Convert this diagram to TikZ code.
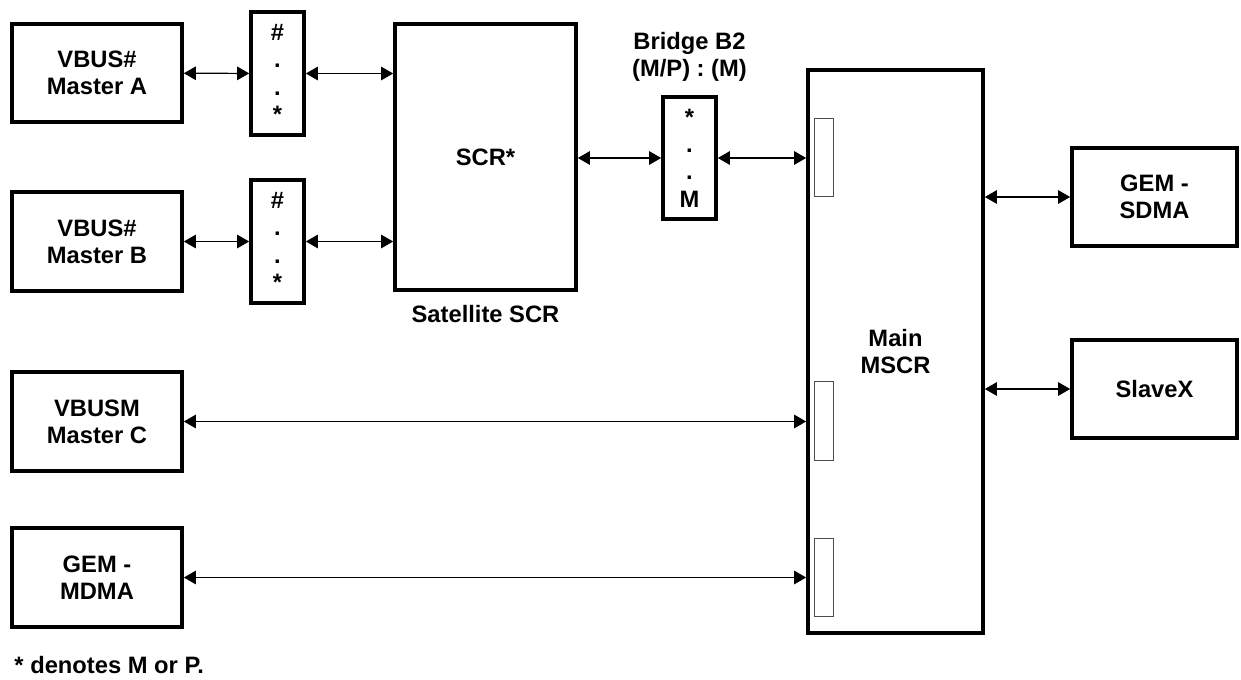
\documentclass[tikz,border=0pt]{standalone}
\usepackage{fontspec}
\setmainfont{Liberation Sans}
\usetikzlibrary{positioning,arrows.meta}

\tikzset{
  blk/.style={draw,line width=2.1pt,align=center,inner sep=0pt,
    font=\bfseries\fontsize{13.5}{15.5}\selectfont},
  master/.style={blk,minimum width=3.4cm,minimum height=1.97cm},
  mux/.style={blk,minimum width=1.06cm,minimum height=2.45cm,
    font=\bfseries\fontsize{13.5}{15.6}\selectfont},
  port/.style={draw,black!70,line width=0.5pt,minimum width=0.38cm,minimum height=1.57cm},
  lbl/.style={align=center,font=\bfseries\fontsize{13.5}{15.5}\selectfont}
}

\begin{document}
\begin{tikzpicture}[x=0.2mm,y=-0.2mm,>={Triangle[length=2.4mm,width=2.7mm]},line width=0.7pt]
  \useasboundingbox (0,0) rectangle (1241,679);

  % left side masters
  \node[master] (mA) at (97,73) {VBUS\#\\Master A};
  \node[master] (mB) at (97,241.5) {VBUS\#\\Master B};
  \node[master] (mC) at (97,421.5) {VBUSM\\Master C};
  \node[master] (mD) at (97,577.5) {GEM -\\MDMA};

  % bus converters
  \node[mux] (muxA) at (277.5,73.5) {\#\\.\\.\\*};
  \node[mux] (muxB) at (277.5,241.5) {\#\\.\\.\\*};

  % satellite SCR and bridge
  \node[blk,minimum width=3.62cm,minimum height=5.32cm] (scr) at (485.5,157) {SCR*};
  \node[lbl,below=0.13cm of scr] (scrlbl) {Satellite SCR};
  \node[mux] (br) at (689.5,158) {*\\.\\.\\M};
  \node[lbl,above=0.14cm of br] (brlbl) {Bridge B2\\(M/P) : (M)};

  % main SCR with its ports
  \node[blk,minimum width=3.5cm,minimum height=11.26cm] (mscr) at (895.5,351.5) {Main\\MSCR};
  \node[port] (p1) at (823.5,157.5) {};
  \node[port] (p2) at (823.5,421) {};
  \node[port] (p3) at (823.5,577.5) {};

  % slaves
  \node[blk,minimum width=3.3cm,minimum height=1.96cm] (sdma) at (1154.5,197) {GEM -\\SDMA};
  \node[blk,minimum width=3.3cm,minimum height=1.96cm] (slv) at (1154.5,389) {SlaveX};

  \node[lbl,anchor=west] (note) at (8,665) {* denotes M or P.};

  \draw[<->] (mA) -- (muxA);
  \draw[<->] (mB) -- (muxB);
  \draw[<->] (muxA.east) -- (muxA.east -| scr.west);
  \draw[<->] (muxB.east) -- (muxB.east -| scr.west);
  \draw[<->] (scr.east |- br.west) -- (br.west);
  \draw[<->] (br.east) -- (br.east -| mscr.west);
  \draw[<->] (mC.east) -- (mC.east -| mscr.west);
  \draw[<->] (mD.east) -- (mD.east -| mscr.west);
  \draw[<->] (sdma.west -| mscr.east) -- (sdma.west);
  \draw[<->] (slv.west -| mscr.east) -- (slv.west);
\end{tikzpicture}
\end{document}
